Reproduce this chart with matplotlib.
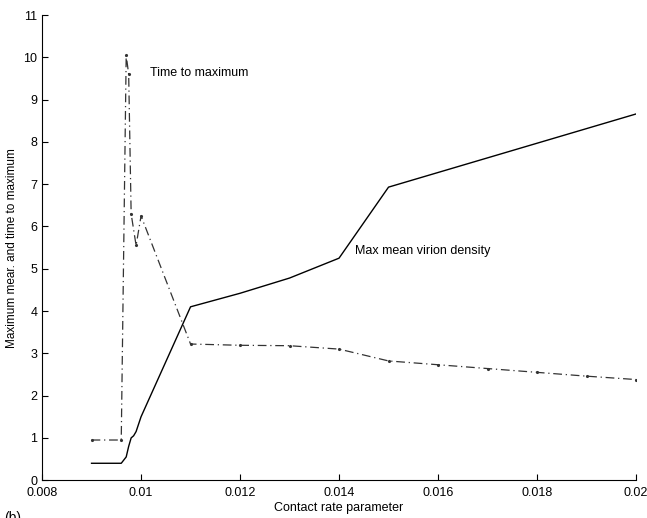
import numpy as np
import matplotlib
matplotlib.use('Agg')
import matplotlib.pyplot as plt

plt.rcParams['font.family'] = ['Liberation Sans', 'DejaVu Sans']

# 最大平均病毒密度
x_dens = [0.009, 0.0096, 0.0097, 0.00975, 0.0098, 0.00985, 0.0099, 0.01,
          0.011, 0.012, 0.013, 0.014, 0.015, 0.02]
y_dens = [0.4, 0.4, 0.55, 0.8, 1.0, 1.05, 1.15, 1.5,
          4.1, 4.42, 4.78, 5.25, 6.93, 8.66]

# 到达最大值的时间
x_time = [0.009, 0.0096, 0.0097, 0.00975, 0.0098, 0.0099, 0.01,
          0.011, 0.012, 0.013, 0.014, 0.015, 0.016, 0.017, 0.018, 0.019, 0.02]
y_time = [0.95, 0.95, 10.05, 9.6, 6.3, 5.55, 6.25,
          3.22, 3.19, 3.18, 3.1, 2.82, 2.73, 2.64, 2.55, 2.46, 2.38]

fig = plt.figure(figsize=(6.47, 5.18), dpi=100)
ax = fig.add_axes([0.065, 0.073, 0.918, 0.898])

ax.plot(x_dens, y_dens, color='black', linewidth=1.0)
ax.plot(x_time, y_time, color='#333333', linewidth=0.9, linestyle=(0, (7, 3, 1, 3)),
        marker='.', markersize=2.5)

ax.set_xlim(0.008, 0.02)
ax.set_ylim(0, 11)
ax.set_xticks([0.008, 0.01, 0.012, 0.014, 0.016, 0.018, 0.02])
ax.set_xticklabels(['0.008', '0.01', '0.012', '0.014', '0.016', '0.018', '0.02'])
ax.set_yticks(range(0, 12))
ax.tick_params(direction='in', labelsize=9, length=4, width=0.8)
ax.tick_params(axis='x', pad=5)
for s in ['top', 'right']:
    ax.spines[s].set_visible(False)
for s in ['left', 'bottom']:
    ax.spines[s].set_linewidth(0.8)

ax.set_xlabel('Contact rate parameter', fontsize=9, labelpad=2)
ax.set_ylabel('Maximum mear. and time to maximum', fontsize=8.5, labelpad=4)

ax.text(0.010175, 9.55, 'Time to maximum', fontsize=9)
ax.text(0.01433, 5.35, 'Max mean virion density', fontsize=9)
fig.text(0.006, 0.0, '(b)', fontsize=10, va='center')

fig.savefig('out.png', dpi=100)
